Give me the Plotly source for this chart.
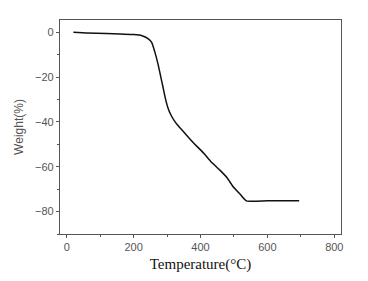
import plotly.graph_objects as go

temperature = [20, 60, 118, 160, 200, 225, 244, 254, 263, 273, 280, 288, 295, 302, 312, 322, 332, 350, 371, 390, 410, 430, 458, 480, 497, 520, 537, 600, 695]
weight = [0, -0.3, -0.5, -0.8, -1.0, -1.5, -2.9, -4.5, -8.5, -14.2, -19, -24.5, -29.5, -33.4, -37, -39.5, -41.5, -44.5, -48, -51, -54, -57.5, -61.5, -65, -68.8, -72.5, -75.2, -75.2, -75.2]

fig = go.Figure()
fig.add_trace(go.Scatter(x=temperature, y=weight, mode="lines",
                         line=dict(color="#111111", width=1.5, shape="spline", smoothing=0.5),
                         showlegend=False))

axis_common = dict(showgrid=False, zeroline=False, showline=True, linecolor="#555555",
                   linewidth=1.2, mirror=True, ticks="outside", ticklen=3, tickwidth=1,
                   tickcolor="#555555", tickfont=dict(family="Liberation Sans, Arial", size=11, color="#555555"))

fig.update_xaxes(range=[-20, 820], tickvals=[0, 200, 400, 600, 800],
                 minor=dict(ticks="outside", ticklen=2, tickcolor="#555555", dtick=100, tick0=0),
                 title=dict(text="Temperature(°C)", font=dict(family="Liberation Serif, Times New Roman", size=15, color="#111111"), standoff=6),
                 **axis_common)
fig.update_yaxes(range=[-90, 5.5], tickvals=[0, -20, -40, -60, -80],
                 minor=dict(ticks="outside", ticklen=2, tickcolor="#555555", dtick=10, tick0=0),
                 title=dict(text="Weight(%)", font=dict(family="Liberation Sans, Arial", size=12, color="#555555"), standoff=8),
                 **axis_common)

fig.update_layout(width=360, height=273, margin=dict(l=45, r=27, t=11, b=46),
                  paper_bgcolor="white", plot_bgcolor="white")

fig.write_html("out.html")
